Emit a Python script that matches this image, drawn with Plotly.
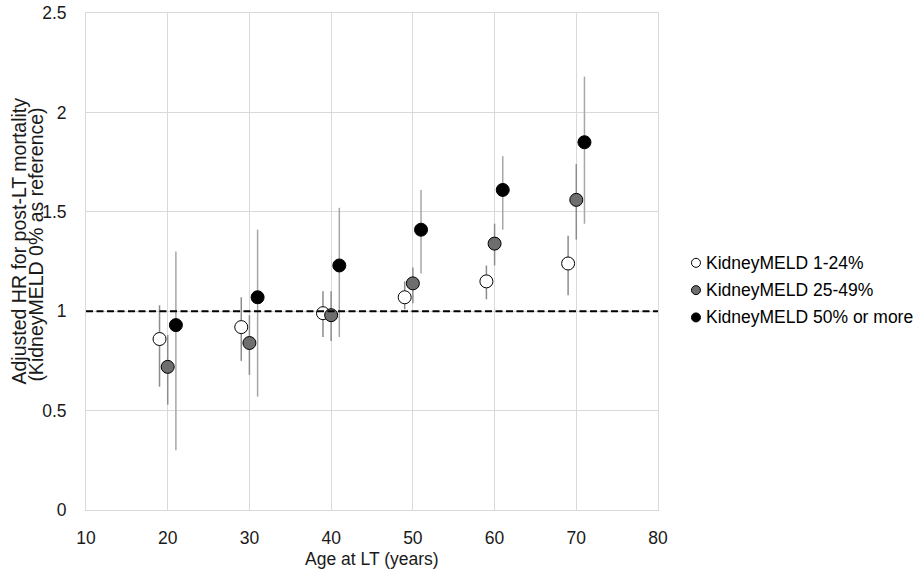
import plotly.graph_objects as go

# ---- data ----
series_names = ["KidneyMELD 1-24%", "KidneyMELD 25-49%", "KidneyMELD 50% or more"]
ages_low = [19, 29, 39, 49, 59, 69]
ages_mid = [20, 30, 40, 50, 60, 70]
ages_high = [21, 31, 41, 51, 61, 71]

hr_low = [0.86, 0.92, 0.99, 1.07, 1.15, 1.24]
lo_low = [0.62, 0.75, 0.87, 1.01, 1.06, 1.08]
hi_low = [1.03, 1.07, 1.10, 1.15, 1.23, 1.38]

hr_mid = [0.72, 0.84, 0.98, 1.14, 1.34, 1.56]
lo_mid = [0.53, 0.68, 0.85, 1.04, 1.23, 1.36]
hi_mid = [0.88, 0.98, 1.10, 1.22, 1.44, 1.74]

hr_high = [0.93, 1.07, 1.23, 1.41, 1.61, 1.85]
lo_high = [0.30, 0.57, 0.87, 1.19, 1.41, 1.44]
hi_high = [1.30, 1.41, 1.52, 1.61, 1.78, 2.18]

reference_hr = 1.0
x_ticks = [10, 20, 30, 40, 50, 60, 70, 80]
y_ticks = [0, 0.5, 1, 1.5, 2, 2.5]
y_ticktext = ["0", "0.5", "1", "1.5", "2", "2.5"]
y_title_lines = ["Adjusted HR for post-LT mortality", "(KidneyMELD 0% as reference)"]
x_title = "Age at LT (years)"

fills = ["#ffffff", "#6e6e6e", "#000000"]
bar_colors = ["#8c8c8c", "#8c8c8c", "#a6a6a6"]
GRID = "#d9d9d9"

FONT = "Liberation Sans, Arial, sans-serif"
FS = 17.5

fig = go.Figure()

data = [
    (ages_low, hr_low, lo_low, hi_low),
    (ages_mid, hr_mid, lo_mid, hi_mid),
    (ages_high, hr_high, lo_high, hi_high),
]

for i, (xs, hr, lo, hi) in enumerate(data):
    fig.add_trace(go.Scatter(
        x=xs, y=hr, mode="markers", name=series_names[i], showlegend=False,
        marker=dict(size=13, color=fills[i], line=dict(color="#000000", width=1)),
        error_y=dict(type="data", symmetric=False,
                     array=[h - v for h, v in zip(hi, hr)],
                     arrayminus=[v - l for v, l in zip(hr, lo)],
                     color=bar_colors[i], thickness=1.5, width=0),
    ))

fig.add_shape(type="line", xref="paper", x0=0, x1=1, yref="y", y0=reference_hr, y1=reference_hr,
              line=dict(color="#000000", width=2, dash="7px,3.5px"))

# hand-built legend (symbol sits close to the text, as in the reference)
legend_x_sym = 1.0664
legend_x_txt = 1.0804
legend_rows = [0.4973, 0.4424, 0.3875]
for i, name in enumerate(series_names):
    fig.add_shape(type="circle", xref="paper", yref="paper",
                  xsizemode="pixel", ysizemode="pixel",
                  xanchor=legend_x_sym, yanchor=legend_rows[i],
                  x0=-4.5, x1=4.5, y0=-4.5, y1=4.5,
                  fillcolor=fills[i], line=dict(color="#000000", width=1))
    fig.add_annotation(xref="paper", yref="paper", x=legend_x_txt, y=legend_rows[i],
                       text=name, showarrow=False, xanchor="left", yanchor="middle",
                       font=dict(size=FS, color="#000000"))

# y-axis title as two tightly spaced rotated lines
for txt, xp, yp in zip(y_title_lines, [-0.1165, -0.0865], [0.541, 0.533]):
    fig.add_annotation(xref="paper", yref="paper", x=xp, y=yp, text=txt, textangle=-90,
                       showarrow=False, xanchor="center", yanchor="middle",
                       font=dict(size=19.5, color="#1a1a1a"))

# x-axis title
fig.add_annotation(xref="paper", yref="paper", x=0.5, y=-0.0985, text=x_title,
                   showarrow=False, xanchor="center", yanchor="middle",
                   font=dict(size=FS, color="#1a1a1a"))

fig.update_layout(
    width=916, height=570,
    margin=dict(l=86, r=258, t=13, b=60, autoexpand=False),
    paper_bgcolor="#ffffff", plot_bgcolor="#ffffff",
    font=dict(family=FONT, size=FS, color="#1a1a1a"),
    showlegend=False,
    xaxis=dict(range=[10, 80], tickvals=x_ticks, showgrid=True, gridcolor=GRID,
               gridwidth=1, zeroline=False, showline=True, mirror=True, linecolor=GRID,
               linewidth=1, ticks="", automargin=False, ticklabelstandoff=12),
    yaxis=dict(range=[0, 2.5], tickvals=y_ticks, ticktext=y_ticktext,
               showgrid=True, gridcolor=GRID, gridwidth=1, zeroline=False,
               showline=True, mirror=True, linecolor=GRID, linewidth=1,
               ticks="", ticklabelstandoff=15, automargin=False),
)

# remove the default page margin so the 916x570 figure fills the window exactly
fig.write_html("out.html", config={"displayModeBar": False},
               post_script="document.body.style.margin='0';")
